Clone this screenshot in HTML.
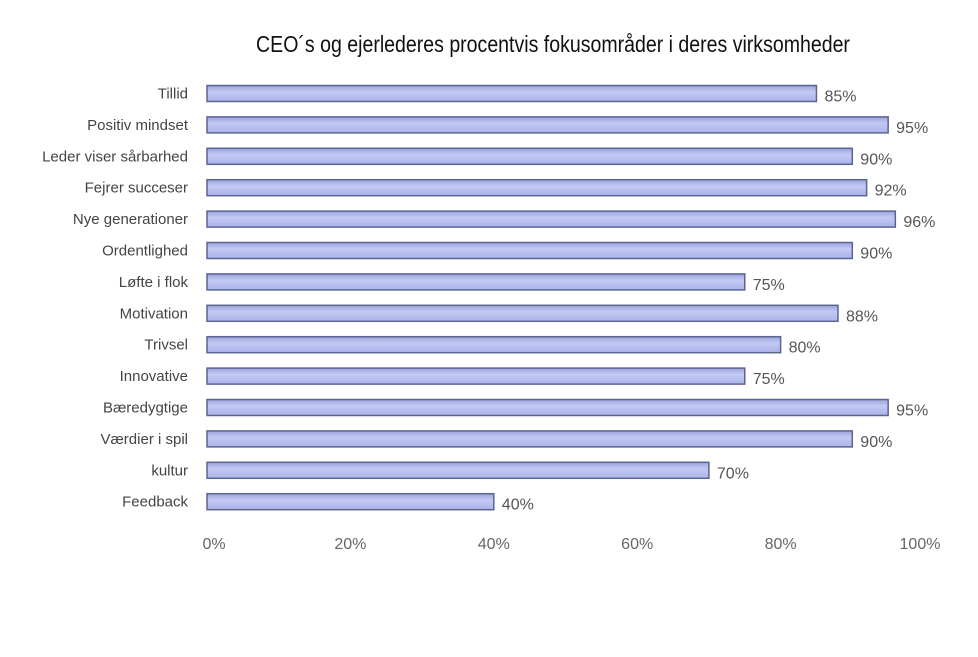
<!DOCTYPE html>
<html><head><meta charset="utf-8"><style>
body{margin:0;background:#fff;width:978px;height:652px;overflow:hidden;font-family:"Liberation Sans",sans-serif}
</style></head><body>
<svg width="978" height="652">
<defs><linearGradient id="g" x1="0" y1="0" x2="0" y2="1"><stop offset="0" stop-color="#9aa4dc"/><stop offset="0.4" stop-color="#c3c9f3"/><stop offset="1" stop-color="#aab3ea"/></linearGradient></defs>
<text x="553" y="52" text-anchor="middle" font-size="23" fill="#111" transform="translate(553,0) scale(0.85,1) translate(-553,0)">CEO´s og ejerlederes procentvis fokusområder i deres virksomheder</text>
<g id="bars"></g><g id="ticks"></g>
</svg>
<script>
const categories=["Tillid","Positiv mindset","Leder viser sårbarhed","Fejrer succeser","Nye generationer","Ordentlighed","Løfte i flok","Motivation","Trivsel","Innovative","Bæredygtige","Værdier i spil","kultur","Feedback"];
const values=[85,95,90,92,96,90,75,88,80,75,95,90,70,40];
const tickLabels=["0%","20%","40%","60%","80%","100%"];
const tickValues=[0,20,40,60,80,100];
const ns="http://www.w3.org/2000/svg";
const x0=207,x1=924,yTop=93.5,step=31.4,bh=16;
const xs=v=>x0+(x1-x0)*v/100;
const ys=i=>yTop+i*step;
const bars=document.getElementById('bars'),ticks=document.getElementById('ticks');
categories.forEach((c,i)=>{
 const y=ys(i);
 const r=document.createElementNS(ns,'rect');
 
 
 r.setAttribute('x',x0);r.setAttribute('y',y-bh/2);r.setAttribute('width',xs(values[i])-x0);r.setAttribute('height',bh);
 r.setAttribute('fill','url(#g)');r.setAttribute('stroke','#5b6590');r.setAttribute('stroke-width','1.5');
 bars.appendChild(r);
 const t=document.createElementNS(ns,'text');
 
 
 t.setAttribute('x',188);t.setAttribute('y',y+5);t.setAttribute('text-anchor','end');t.setAttribute('font-size','15');t.setAttribute('fill','#444');
 t.textContent=c;bars.appendChild(t);
 const v=document.createElementNS(ns,'text');
 
 
 v.setAttribute('x',xs(values[i])+8);v.setAttribute('y',y+8);v.setAttribute('font-size','16');v.setAttribute('fill','#555');
 v.textContent=values[i]+'%';bars.appendChild(v);
});
tickValues.forEach((tv,i)=>{
 const t=document.createElementNS(ns,'text');
 
 
 t.setAttribute('x',xs(tv)-(i==5?4:0)+ (i==0?7:0));t.setAttribute('y',549);t.setAttribute('text-anchor','middle');t.setAttribute('font-size','16');t.setAttribute('fill','#666');
 t.textContent=tickLabels[i];ticks.appendChild(t);
});
</script>
</body></html>
